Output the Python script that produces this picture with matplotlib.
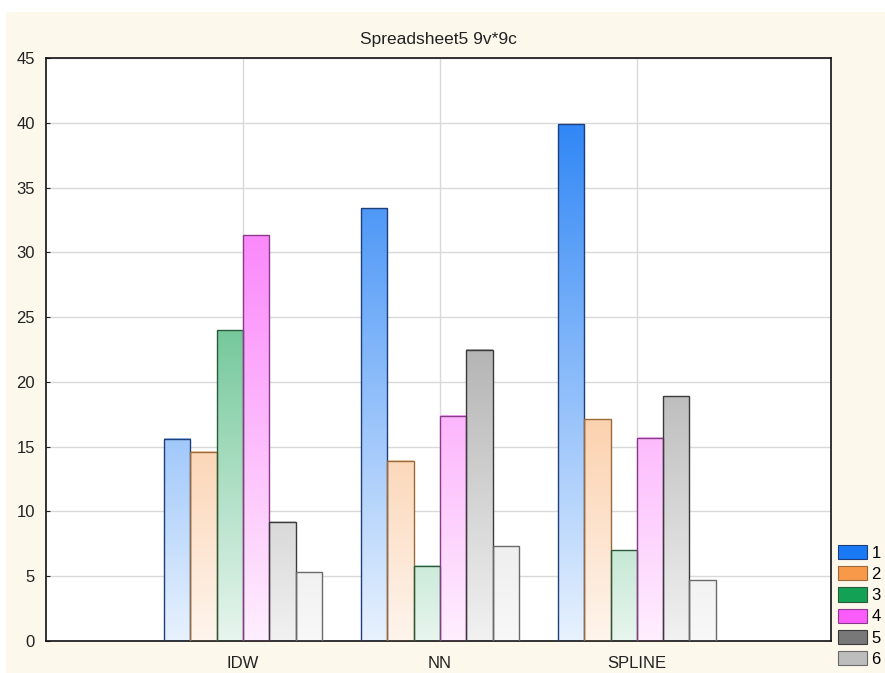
import numpy as np
import matplotlib.pyplot as plt
from matplotlib.patches import Patch, Rectangle
from matplotlib.colors import to_rgb

plt.rcParams['font.family'] = ['Liberation Sans', 'DejaVu Sans']

categorias = ['IDW', 'NN', 'SPLINE']
series = ['1', '2', '3', '4', '5', '6']
valores = [
    [15.6, 33.4, 39.9],   # 1
    [14.6, 13.9, 17.1],   # 2
    [24.0, 5.8, 7.0],     # 3
    [31.3, 17.4, 15.7],   # 4
    [9.2, 22.5, 18.9],    # 5
    [5.3, 7.3, 4.7],      # 6
]
colores = ['#1a7af5', '#f8994a', '#13a155', '#fa5cfa', '#787878', '#bdbdbd']
bordes = ['#1f3f7a', '#9a6a3a', '#2a5a3a', '#8a3a8a', '#3a3a3a', '#6a6a6a']

ymax = 45

fig = plt.figure(figsize=(8.85, 6.73), dpi=100, facecolor='white')
# fondo crema del gráfico
fig.patches.append(Rectangle((6 / 885, 0), 1, 1 - 12 / 673, transform=fig.transFigure,
                             facecolor='#fdf8ec', edgecolor='none', zorder=-10))

ax = fig.add_axes([46 / 885, 1 - 641 / 673, 785 / 885, 583 / 673])
ax.set_facecolor('white')

x = np.arange(1, len(categorias) + 1)
ancho = 0.8 / len(series)

for i, (vals, c, b) in enumerate(zip(valores, colores, bordes)):
    pos = x - 0.4 + ancho * (i + 0.5)
    rgb = np.array(to_rgb(c))
    for xp, v in zip(pos, vals):
        # degradado: color pleno arriba, casi blanco abajo
        ys = np.linspace(0, v, 100)
        t = 0.1 + 0.9 * ys / ymax
        img = (1 - t)[:, None] * np.ones(3) + t[:, None] * rgb
        ax.imshow(img[:, None, :], extent=[xp - ancho / 2, xp + ancho / 2, 0, v],
                  origin='lower', aspect='auto', zorder=2, interpolation='bilinear')
    ax.bar(pos, vals, width=ancho, facecolor='none', edgecolor=b, linewidth=1.0, zorder=3)

ax.set_xlim(0, 3.985)
ax.set_ylim(0, ymax)
ax.set_yticks(np.arange(0, 46, 5))
ax.set_xticks(x)
ax.set_xticklabels(categorias)
ax.tick_params(axis='both', direction='in', length=3, labelsize=12, colors='#222222')
ax.tick_params(axis='x', length=0, pad=11)
ax.tick_params(axis='y', pad=8)
ax.grid(True, color='#d9d9d9', linewidth=1.0)
ax.set_axisbelow(True)
for s in ax.spines.values():
    s.set_color('#111111')
    s.set_linewidth(1.2)

ax.set_title('Spreadsheet5 9v*9c', fontsize=12.5, color='#222222', pad=10)

handles = [Patch(facecolor=c, edgecolor=b, linewidth=0.8) for c, b in zip(colores, bordes)]
ax.legend(handles, series, loc='upper left', bbox_to_anchor=(1.009, 0.165), frameon=False,
          fontsize=12, handlelength=1.75, handleheight=0.95, labelspacing=0.32,
          handletextpad=0.25, borderaxespad=0, borderpad=0)

fig.savefig('out.png', dpi=100, facecolor=fig.get_facecolor())
